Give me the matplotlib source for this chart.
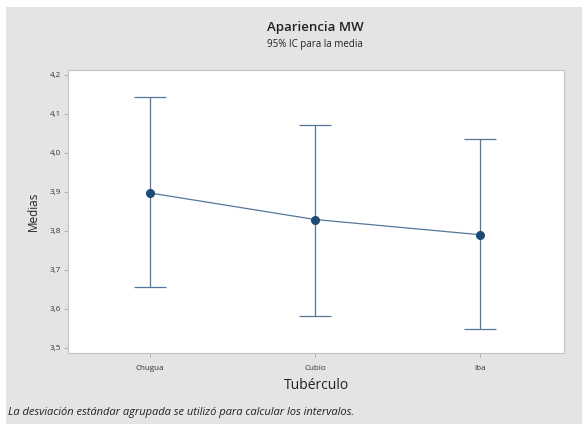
import numpy as np
import matplotlib.pyplot as plt
from matplotlib.patches import Rectangle
from matplotlib.ticker import FuncFormatter

# medias e intervalos de confianza del 95%
tuberculos = ['Chugua', 'Cubio', 'Iba']
medias = [3.897, 3.829, 3.790]
ic_inf = [3.657, 3.581, 3.548]
ic_sup = [4.144, 4.070, 4.034]
yticks = [3.5, 3.6, 3.7, 3.8, 3.9, 4.0, 4.1, 4.2]

plt.rcParams['font.family'] = ['Open Sans', 'DejaVu Sans']

fig = plt.figure(figsize=(5.82, 4.24), dpi=100)
fig.patch.set_facecolor('white')
# fondo gris del grafico
fig.patches.append(Rectangle((6/582, 0), 1, 1 - 7/424, transform=fig.transFigure,
                             facecolor='#e4e4e4', edgecolor='none', zorder=-5))

ax = fig.add_axes([68/582, 1 - 353/424, 496/582, 283/424])
ax.set_zorder(2)
ax.set_facecolor('white')

x = np.arange(len(tuberculos))
med = np.array(medias)
err = np.array([med - np.array(ic_inf), np.array(ic_sup) - med])

ax.errorbar(x, med, yerr=err, fmt='none', ecolor='#54779a', elinewidth=0.9,
            capsize=11.5, capthick=0.9, zorder=2)
ax.plot(x, med, color='#54779a', lw=0.9, zorder=3)
ax.plot(x, med, 'o', color='#1d4b76', ms=5.5, zorder=4)

ax.set_xlim(-0.497, 2.509)
ax.set_ylim(3.487, 4.212)
ax.set_xticks(x)
ax.set_xticklabels(tuberculos)
ax.set_yticks(yticks)
ax.yaxis.set_major_formatter(FuncFormatter(lambda v, p: f'{v:.1f}'.replace('.', ',')))
ax.tick_params(axis='both', labelsize=5.8, length=3, width=0.6, color='#aaaaaa',
               labelcolor='#333333', pad=2)
ax.tick_params(axis='x', pad=6)
for s in ax.spines.values():
    s.set_color('#c4c4c4')
    s.set_linewidth(0.8)

ax.set_ylabel('Medias', fontsize=8.5, color='#222222', labelpad=7)
ax.set_xlabel('Tubérculo', fontsize=10, color='#222222', labelpad=4)

fig.text(315/582, 1 - 28/424, 'Apariencia MW', ha='center', va='center',
         fontsize=9.5, fontweight='semibold', color='#222222')
fig.text(315/582, 1 - 45/424, '95% IC para la media', ha='center', va='center',
         fontsize=7, color='#222222')
fig.text(8/582, 1 - 412/424,
         'La desviación estándar agrupada se utilizó para calcular los intervalos.',
         ha='left', va='center', fontsize=8, style='italic', color='#222222')

fig.savefig('out.png', dpi=100)
